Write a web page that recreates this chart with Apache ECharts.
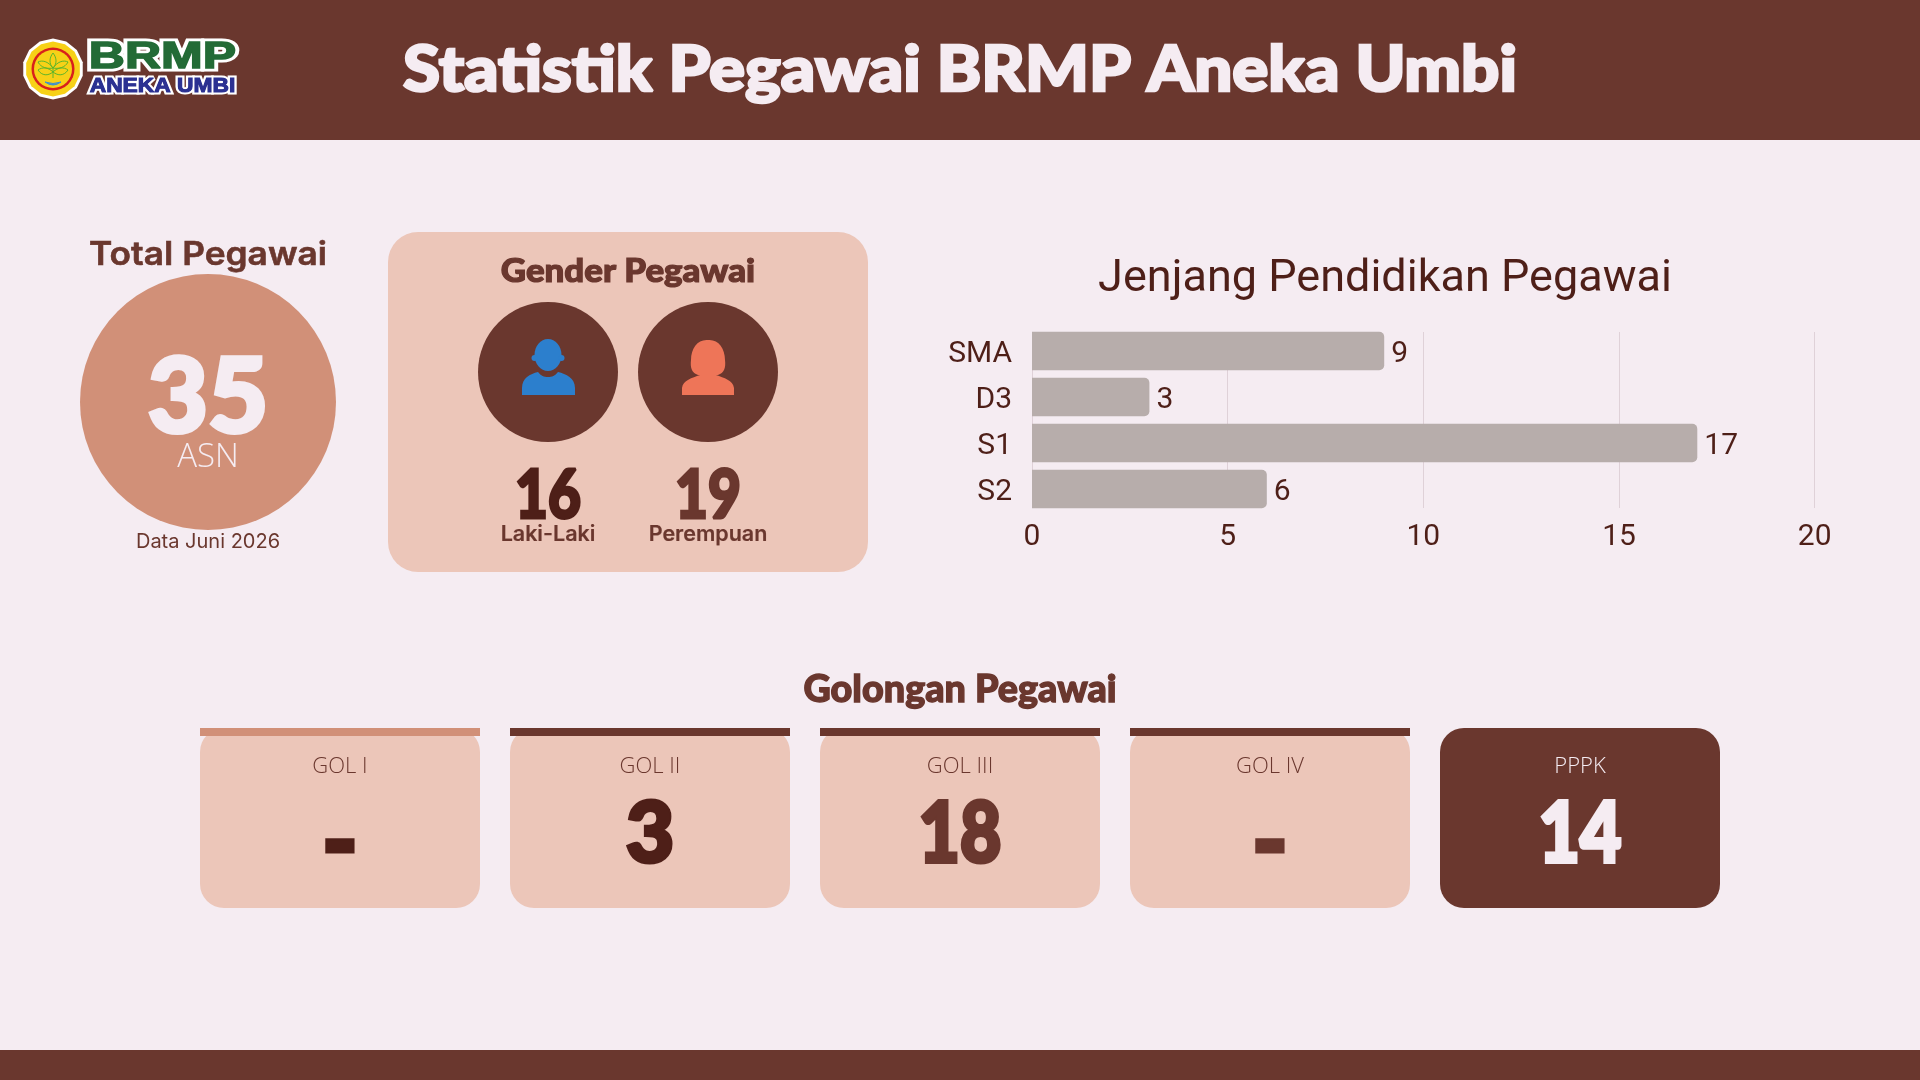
<!DOCTYPE html>
<html><head><meta charset="utf-8">
<style>html,body{margin:0;padding:0;background:#F5ECF2}#c{width:1920px;height:1080px}</style>
<script src="https://cdn.jsdelivr.net/npm/echarts@6/dist/echarts.min.js"></script>
</head><body><div id="c"></div>
<script>
const pageTitle = "Statistik Pegawai BRMP Aneka Umbi";
const eduCategories = ["SMA","D3","S1","S2"];
const eduValues = [9,3,17,6];
const eduTitle = "Jenjang Pendidikan Pegawai";
const totalValue = "35";
const genderLabels = ["Laki-Laki","Perempuan"];
const genderValues = ["16","19"];
const golLabels = ["GOL I","GOL II","GOL III","GOL IV","PPPK"];
const golValues = ["-","3","18","-","14"];

const DARK="#6A372E", DEEP="#4E1F18", CARD="#ECC6B9", BG="#F5ECF2", TAN="#D19078", BLUE="#2C7FCD", CORAL="#EE7558";
const FAT="Lato", SOFT="'Open Sans'", ROUND="Inter";

function txt(text,x,y,size,fill,o){o=o||{};
  const s={text,x:o.sx?0:x,y:o.sx?0:y,fontSize:size,fontFamily:o.family||FAT,fontWeight:o.weight||700,fill,align:'center',verticalAlign:'middle'};
  if(o.sw){s.stroke=o.stroke||fill;s.lineWidth=o.sw;}
  const e={type:'text',z:o.z||3,style:s};
  if(o.sx){e.x=x;e.y=y;e.scaleX=o.sx;}
  return e;
}
function rect(x,y,w,h,r,fill,z){return {type:'rect',z:z||1,shape:{x,y,width:w,height:h,r},style:{fill}};}
function circ(cx,cy,r,fill,z){return {type:'circle',z:z||1,shape:{cx,cy,r},style:{fill}};}
let pathCount=0;
function path(d,style,z){const name='deco'+(++pathCount);
  echarts.graphic.registerShape(name,echarts.graphic.extendPath(d,{}));
  return {type:name,z:z||2,style};}
function poly(cx,cy,r,n,fill){const p=[];for(let i=0;i<n;i++){const a=i/n*Math.PI*2-Math.PI/2;p.push([cx+r*Math.cos(a),cy+r*Math.sin(a)]);}
  return {type:'polygon',z:2,shape:{points:p},style:{fill}};}

const g=[];
// header & footer
g.push(rect(0,0,1920,140,0,DARK,1));
g.push(rect(0,1050,1920,30,0,DARK,1));
g.push(txt(pageTitle,960,71,63,BG,{weight:900,sw:2.5,sx:1.067}));
// logo
g.push(poly(53,69,30.5,14,"#FFFFFF"));
g.push(poly(53,69,27.5,14,"#F7D117"));
g.push(circ(53,69,21.5,"#D8201C",2.1));
g.push(circ(53,69,19,"#F7D117",2.2));
const leaf={fill:"none",stroke:"#5DB52A",lineWidth:1};
g.push(path("M53,53 C49,58 49,64 53,68 C57,64 57,58 53,53Z",leaf,2.3));
g.push(path("M53,68 C48,61 42,60 38,62 C41,68 48,69 53,68Z",leaf,2.3));
g.push(path("M53,68 C58,61 64,60 68,62 C65,68 58,69 53,68Z",leaf,2.3));
g.push(path("M53,72 C48,67 42,67 38,70 C42,76 48,76 53,72Z",leaf,2.3));
g.push(path("M53,72 C58,67 64,67 68,70 C64,76 58,76 53,72Z",leaf,2.3));
g.push(path("M53,68 L53,78",leaf,2.3));
g.push(path("M45,82 Q53,88 61,82 Q53,85 45,82Z",{fill:"#3A8FD0",stroke:"#3A8FD0",lineWidth:1},2.3));
g.push(txt("BRMP",162.5,58,36,"#236B36",{family:"'Liberation Sans'",weight:700,sx:1.39,sw:7,stroke:"#FFFFFF"}));
g.push(txt("BRMP",162.5,58,36,"#236B36",{family:"'Liberation Sans'",weight:700,sx:1.39,sw:1.4,z:4}));
g.push(txt("ANEKA UMBI",162.5,86,20,"#2B3192",{family:"'Liberation Sans'",weight:700,sx:1.14,sw:5,stroke:"#FFFFFF"}));
g.push(txt("ANEKA UMBI",162.5,86,20,"#2B3192",{family:"'Liberation Sans'",weight:700,sx:1.14,sw:1,z:4}));
// total
g.push(txt("Total Pegawai",208,255,33,DARK,{family:ROUND,weight:600,sw:.6,sx:1.07}));
g.push(circ(208,402,128,TAN));
g.push(txt(totalValue,208,399,102,BG,{weight:900,sw:4,sx:1.02}));
g.push(txt("ASN",208,458,33,BG,{family:SOFT,weight:300}));
g.push(txt("Data Juni 2026",208,542,20,DARK,{family:ROUND,weight:400}));
// gender
g.push(rect(388,232,480,340,30,CARD));
g.push(txt("Gender Pegawai",628,271,33,DARK,{weight:900,sw:1.2,sx:1.056}));
[548,708].forEach((cx,i)=>{
  g.push(circ(cx,372,70,DARK));
  g.push(txt(genderValues[i],cx,497,66,i?DARK:DEEP,{weight:900,sw:3,sx:.86}));
  g.push(txt(genderLabels[i],cx,535,21.5,DARK,{family:ROUND,weight:600,sw:.2}));
});
g.push({type:'ellipse',z:2,shape:{cx:548,cy:355,rx:13.5,ry:16},style:{fill:BLUE}});
g.push(circ(534.5,358,3,BLUE,2)); g.push(circ(561.5,358,3,BLUE,2));
g.push(path("M522,395 L522,388 C522,378 530,374 538,372 C541,376 544,377 548,377 C552,377 555,376 558,372 C566,374 575,378 575,388 L575,395 Z",{fill:BLUE}));
g.push(path("M708,340 C718,339 725,348 725,360 C726,368 724,373 718,375 L698,375 C692,373 690,368 691,360 C691,348 698,339 708,340Z",{fill:CORAL}));
g.push(path("M682,395 L682,388 C683,380 692,378 700,375 L716,375 C724,378 733,380 734,388 L734,395Z",{fill:CORAL}));
// chart title
g.push(txt(eduTitle,1385,280,45,DEEP,{family:"Roboto",weight:400}));
// gridline end masks
g.push(rect(1020,326,820,6,0,BG,1));
g.push(rect(1020,508,820,6,0,BG,1));
// golongan
g.push(txt("Golongan Pegawai",960,690,37,DARK,{weight:900,sw:1.3,sx:1.02}));
golLabels.forEach((lab,i)=>{
  const x=200+i*310, cx=x+140, last=i===4, dash=golValues[i]==="-";
  g.push(rect(x,728,280,180,24,last?DARK:CARD));
  if(!last) g.push(rect(x,728,280,8,0,i===0?TAN:DARK,2));
  g.push(txt(lab,cx,767,22,last?BG:DARK,{family:SOFT,weight:300}));
  const col=last?BG:(i<2?DEEP:DARK);
  if(dash) g.push(txt(golValues[i],cx,844,92,col,{weight:900,sw:5}));
  else g.push(txt(golValues[i],cx,835,83,col,{weight:900,sw:4,sx:golValues[i].length>1?.86:1}));
});

const chart=echarts.init(document.getElementById('c'));
chart.setOption({
  backgroundColor:BG,
  animation:false,
  textStyle:{fontFamily:'Roboto'},
  graphic:{elements:g},
  grid:{left:1032,top:328,width:782.7,height:184,containLabel:false},
  xAxis:{type:'value',min:0,max:20,interval:5,
    axisLine:{show:false},axisTick:{show:false},
    splitLine:{show:true,lineStyle:{color:'#DFD1D8',width:1}},
    axisLabel:{color:DEEP,fontSize:30,fontFamily:'Roboto',margin:10}},
  yAxis:{type:'category',inverse:true,data:eduCategories,
    axisLine:{show:true,lineStyle:{color:'#DFD1D8',width:1}},axisTick:{show:false},
    axisLabel:{margin:20,formatter:'{a|{value}}',
      rich:{a:{color:DEEP,fontSize:30,fontFamily:'Roboto',padding:[6,0,0,0]}}}},
  series:[{type:'bar',data:eduValues,barWidth:38.3,z:3,
    itemStyle:{color:'#B7ADAB',borderRadius:[0,5,5,0]},
    label:{show:true,position:'right',distance:7,offset:[0,3],color:DEEP,fontSize:30,fontFamily:'Roboto'}}]
});
</script></body></html>
